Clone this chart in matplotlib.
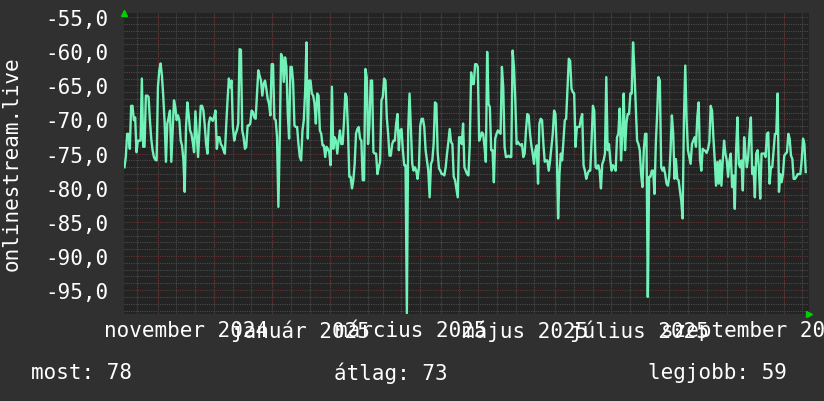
import matplotlib
matplotlib.use("Agg")
import matplotlib.pyplot as plt
import matplotlib.dates as mdates
import pandas as pd

# signal readings (oldest first)
seg_oct_dec = [-77.0, -75.5, -72.1, -72.1, -74.3, -68.0, -68.0, -70.1, -69.7, -74.8,
               -73.1, -73.1, -73.1, -64.0, -74.0, -74.0, -66.5, -66.5, -66.7, -70.1,
               -72.8, -74.5, -75.5, -75.9, -76.0, -65.3, -62.8, -61.8, -63.6, -66.7,
               -70.4, -76.2, -70.6, -69.7, -68.7, -76.2, -71.6, -67.2, -68.2, -70.1,
               -69.4, -70.1, -73.1, -73.8, -75.8, -80.6, -71.1, -67.5, -69.4, -71.6,
               -72.1, -73.3, -74.8, -68.8, -72.1, -75.5, -71.6, -68.0, -68.0, -68.7,
               -70.9, -73.6, -75.0, -70.6, -69.7, -69.9, -70.2, -69.6, -68.7, -74.3,
               -72.6, -72.6, -73.6, -73.9, -74.5, -75.0, -70.9, -67.2, -64.0, -65.3,
               -64.3, -71.1, -73.1]
seg_dec_feb = [-72.1, -71.6, -70.6, -59.7, -59.8, -71.6, -72.6, -74.3, -74.0, -70.9,
               -70.9, -70.6, -68.7, -68.9, -69.7, -69.9, -66.2, -62.8, -63.6, -64.3,
               -66.5, -64.8, -64.3, -65.5, -67.0, -67.7, -69.4, -61.9, -61.9, -69.9,
               -70.1, -72.6, -82.8, -73.1, -60.4, -60.9, -64.5, -60.9, -62.3, -69.2,
               -72.8, -62.3, -62.3, -64.5, -70.9, -71.1, -71.1, -73.6, -75.5, -76.0,
               -71.6, -70.1, -65.8, -58.7, -72.8, -64.3, -64.3, -66.2, -66.5, -67.7,
               -70.6, -66.2, -66.5, -71.6, -72.1, -73.8, -73.8, -75.5, -74.0, -74.3,
               -74.8, -76.7, -65.2, -74.3, -72.6, -73.1, -75.0, -73.1, -71.6, -73.6,
               -73.6, -70.4, -66.2, -66.7, -71.6]
seg_feb_apr = [-78.4, -78.4, -80.1, -78.9, -76.5, -72.1, -71.4, -71.1, -72.8, -73.1,
               -78.9, -78.9, -62.6, -63.8, -73.6, -70.9, -64.3, -64.3, -74.8, -75.0,
               -75.0, -78.0, -77.0, -76.2, -67.2, -66.7, -64.0, -64.3, -69.7, -72.1,
               -75.3, -75.3, -73.6, -73.1, -73.1, -70.6, -69.2, -74.5, -71.6, -71.4,
               -74.5, -76.7, -76.7, -98.4, -71.4, -66.2, -71.4, -76.5, -77.5, -77.0,
               -77.5, -78.7, -77.0, -70.9, -69.9, -69.9, -71.1, -74.5, -76.0, -77.5,
               -81.4, -76.5, -76.0, -73.6, -67.5, -67.7, -74.8, -77.2, -77.5, -78.0,
               -78.0, -78.2, -77.0, -75.0, -73.3, -71.4, -73.3, -73.6, -78.4, -78.9,
               -80.1, -81.4, -72.6, -72.6, -73.6]
seg_apr_jun = [-70.6, -77.0, -77.5, -78.0, -78.2, -73.6, -63.1, -64.8, -64.8, -61.9,
               -61.9, -62.3, -73.1, -72.6, -71.9, -72.1, -74.0, -76.2, -60.1, -67.7,
               -68.2, -74.5, -74.5, -79.2, -72.8, -72.1, -71.6, -71.9, -72.1, -62.3,
               -65.3, -74.0, -75.5, -75.5, -75.3, -75.5, -75.5, -59.9, -62.3, -67.2,
               -73.6, -73.3, -73.6, -73.8, -73.6, -75.5, -75.0, -71.6, -69.2, -69.4,
               -72.1, -73.8, -75.0, -76.5, -74.5, -73.8, -79.4, -70.6, -69.9, -70.1,
               -73.6, -76.2, -76.0, -76.0, -77.5, -76.0, -74.0, -72.1, -68.7, -69.2,
               -74.5, -84.5, -78.0, -75.0, -76.0, -73.1, -70.1, -69.9, -65.5, -61.1,
               -61.4, -65.5, -66.0, -66.2, -74.0]
seg_jun_aug = [-71.1, -71.1, -71.1, -69.9, -69.2, -76.7, -77.5, -78.7, -78.0, -77.5,
               -77.5, -73.1, -68.0, -68.7, -77.0, -77.2, -76.7, -77.5, -80.1, -76.5,
               -76.0, -75.0, -63.8, -74.5, -73.6, -76.0, -77.5, -76.7, -77.0, -77.5,
               -72.6, -72.1, -68.4, -76.0, -72.1, -66.2, -74.5, -70.6, -69.2, -69.2,
               -66.2, -66.2, -58.7, -62.8, -68.0, -73.1, -73.6, -74.5, -78.0, -79.9,
               -74.5, -72.1, -72.1, -96.0, -78.4, -78.4, -77.5, -77.5, -80.9, -73.6,
               -69.2, -63.8, -64.3, -77.0, -77.5, -77.0, -78.0, -79.4, -79.7, -78.4,
               -74.5, -69.4, -72.1, -78.7, -75.8, -78.7, -78.9, -80.4, -81.9, -84.5,
               -70.1, -62.1, -70.1, -74.5, -75.5]
seg_aug_oct = [-76.5, -73.6, -73.1, -72.6, -74.0, -69.7, -67.5, -75.8, -77.5, -74.3,
               -74.5, -74.6, -74.9, -74.3, -73.3, -68.0, -68.7, -72.6, -75.9, -79.7,
               -76.2, -79.4, -76.0, -79.7, -76.0, -73.1, -75.0, -76.0, -78.4, -76.0,
               -75.0, -79.9, -78.2, -83.1, -74.5, -69.7, -76.5, -77.0, -76.0, -80.4,
               -72.6, -75.0, -77.0, -75.5, -72.1, -69.7, -78.0, -77.0, -81.4, -75.0,
               -74.5, -77.0, -81.6, -75.0, -75.0, -75.0, -75.5, -72.1, -71.9, -79.4,
               -77.0, -77.0, -74.5, -72.1, -72.1, -66.2, -80.6, -78.0, -79.2, -78.0,
               -75.3, -75.0, -74.8, -72.1, -72.8, -75.3, -75.8, -78.7, -78.7, -78.4,
               -78.0, -78.0, -78.0, -76.0, -72.8, -73.6, -77.7]

values = (seg_oct_dec + seg_dec_feb + seg_feb_apr + seg_apr_jun
          + seg_jun_aug + seg_aug_oct)
first_sample = "2024-10-14 06:00"
last_sample = "2025-10-12 18:00"
view_start = "2024-10-14"
view_end = "2025-10-14 12:00"

y_ticks = [-95, -90, -85, -80, -75, -70, -65, -60, -55]
y_labels = ["-95,0", "-90,0", "-85,0", "-80,0", "-75,0", "-70,0", "-65,0", "-60,0", "-55,0"]
month_labels = ["november 2024", "január 2025", "március 2025",
                "május 2025", "július 2025", "szeptember 2025"]
label_dates = ["2024-11-16", "2025-01-16", "2025-03-16",
               "2025-05-16", "2025-07-16", "2025-09-16"]
ylabel = "onlinestream.live"
stats = ["most: 78", "átlag: 73", "legjobb: 59"]

BACK = "#303030"
CANVAS = "#232323"
LINE = "#72f2b8"
MAJOR = "#633232"
MINOR = "#4b4b4b"
ARROW = "#00d000"

plt.rcParams['font.family'] = ['DejaVu Sans Mono']

dates = pd.date_range(first_sample, last_sample, periods=len(values))

fig = plt.figure(figsize=(8.24, 4.02), dpi=100, facecolor=BACK)
ax = fig.add_axes([124 / 824, 1 - 315 / 402, 685 / 824, 301 / 402])
ax.set_facecolor(CANVAS)

ax.set_xlim(pd.Timestamp(view_start), pd.Timestamp(view_end))
ax.set_ylim(-98.5, -54.4)

# grid: minor grey dotted, major red dotted
ax.set_yticks(y_ticks)
ax.set_yticklabels(y_labels)
ax.yaxis.set_minor_locator(matplotlib.ticker.MultipleLocator(1))
ax.grid(True, which='minor', axis='y', color=MINOR, linestyle=(0, (1, 1)), linewidth=0.8)
ax.grid(True, which='major', axis='y', color=MAJOR, linestyle=(0, (1, 1)), linewidth=0.8)

ax.xaxis.set_minor_locator(mdates.DayLocator(bymonthday=[1, 11, 21]))
ax.grid(True, which='minor', axis='x', color=MINOR, linestyle=(0, (1, 1)), linewidth=0.8)
for m in pd.date_range("2024-11-01", "2025-10-01", freq="MS"):
    ax.axvline(m, color=MAJOR, linestyle=(0, (1, 1)), linewidth=0.8, zorder=0.6)

ax.set_xticks(pd.to_datetime(label_dates))
ax.set_xticklabels(month_labels)
ax.set_axisbelow(True)

ax.tick_params(axis='both', which='both', length=0, colors='white', labelsize=15)
ax.tick_params(axis='y', pad=11)
ax.tick_params(axis='x', pad=4)
for s in ax.spines.values():
    s.set_visible(False)

ax.plot(dates, values, color=LINE, linewidth=1.7, zorder=3)

# axis arrows
ax.plot([0], [1.0], marker='^', color=ARROW, markersize=5, transform=ax.transAxes,
        clip_on=False, zorder=5)
ax.plot([1.0], [0], marker='>', color=ARROW, markersize=5, transform=ax.transAxes,
        clip_on=False, zorder=5)

fig.text(12 / 824, 1 - 164 / 402, ylabel, rotation=90, color='white', fontsize=15,
         ha='center', va='center')
fig.text(31 / 824, 1 - 373 / 402, stats[0], color='white', fontsize=15, ha='left', va='center')
fig.text(334 / 824, 1 - 373 / 402, stats[1], color='white', fontsize=15, ha='left', va='center')
fig.text(648 / 824, 1 - 373 / 402, stats[2], color='white', fontsize=15, ha='left', va='center')

fig.savefig("out.png", dpi=100, facecolor=BACK)
